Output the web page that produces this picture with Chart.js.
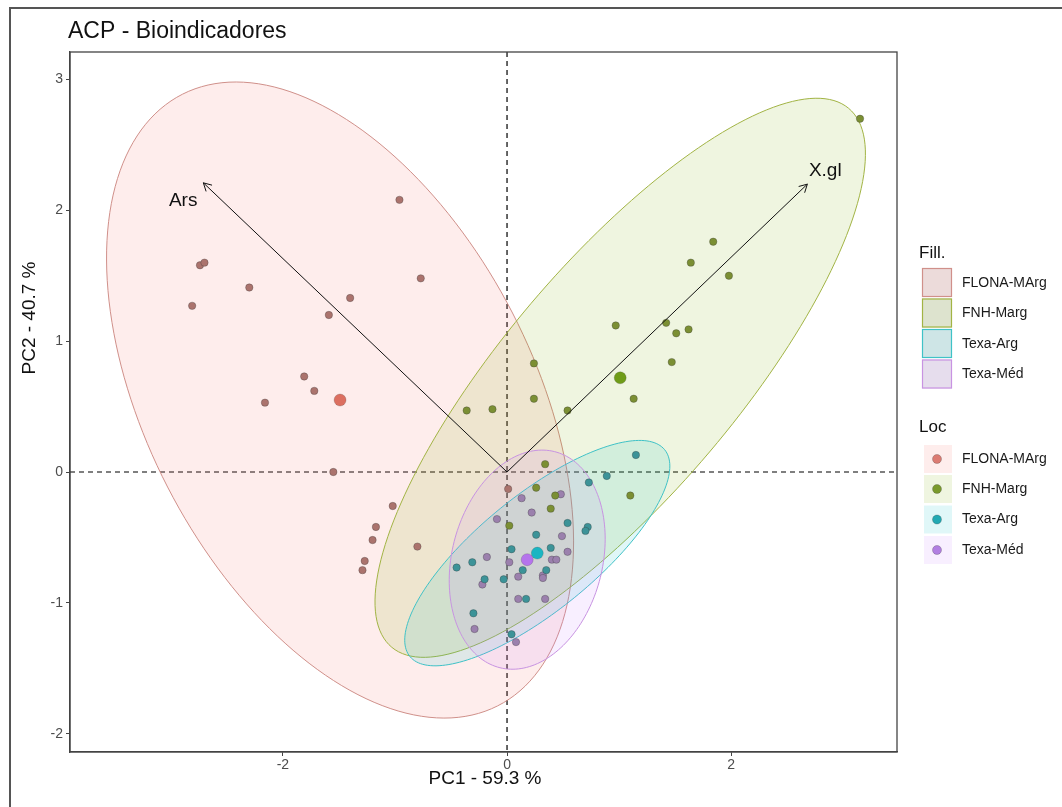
<!DOCTYPE html>
<html>
<head>
<meta charset="utf-8">
<script src="https://cdn.jsdelivr.net/npm/chart.js@4.4.1/dist/chart.umd.min.js"></script>
<style>
html,body{margin:0;padding:0;background:#fff;}
canvas{display:block;}
</style>
</head>
<body>
<canvas id="c" width="1062" height="807"></canvas>
<script>
// ---------------- data ----------------
const groups = ['FLONA-MArg', 'FNH-Marg', 'Texa-Arg', 'Texa-Méd'];

const flonaX = [-0.96, -2.74, -2.70, -2.30, -2.81, -0.77, -1.40, -1.59, -1.81, -1.72, -2.16, -1.55, -1.02, -1.17, -1.20, -1.27, -1.29, -0.80, 0.01];
const flonaY = [2.08, 1.58, 1.60, 1.41, 1.27, 1.48, 1.33, 1.20, 0.73, 0.62, 0.53, 0.00, -0.26, -0.42, -0.52, -0.68, -0.75, -0.57, -0.13];

const fnhX = [3.15, 1.84, 1.64, 1.98, 0.97, 1.42, 1.51, 1.62, 1.47, 1.13, 0.54, 0.24, 0.24, -0.36, -0.13, 0.34, 1.10, 0.26, 0.43, 0.39, 0.02];
const fnhY = [2.70, 1.76, 1.60, 1.50, 1.12, 1.14, 1.06, 1.09, 0.84, 0.56, 0.47, 0.83, 0.56, 0.47, 0.48, 0.06, -0.18, -0.12, -0.18, -0.28, -0.41];

const texaArgX = [1.15, 0.89, 0.73, 0.54, 0.72, 0.70, 0.26, 0.04, 0.39, -0.31, -0.45, 0.14, 0.35, -0.20, -0.03, 0.17, -0.30, 0.04];
const texaArgY = [0.13, -0.03, -0.08, -0.39, -0.42, -0.45, -0.48, -0.59, -0.58, -0.69, -0.73, -0.75, -0.75, -0.82, -0.82, -0.97, -1.08, -1.24];

const texaMedX = [0.13, 0.48, 0.22, -0.09, 0.49, 0.54, -0.18, 0.02, 0.40, 0.44, 0.10, 0.32, 0.32, -0.22, 0.10, 0.34, -0.29, 0.08];
const texaMedY = [-0.20, -0.17, -0.31, -0.36, -0.49, -0.61, -0.65, -0.69, -0.67, -0.67, -0.80, -0.79, -0.81, -0.86, -0.97, -0.97, -1.20, -1.30];

// group means (large points, also ellipse centres)
const meanX = [-1.49, 1.01, 0.27, 0.18];
const meanY = [0.55, 0.72, -0.62, -0.67];

// concentration ellipses: two conjugate semi-axis vectors per group (data units)
const ellUX = [1.405, 2.038, 1.136, 0.243];
const ellUY = [-2.338, 2.060, 0.791, 0.826];
const ellVX = [1.539, 0.797, 0.330, 0.652];
const ellVY = [0.665, -0.567, -0.341, -0.138];

// variable arrows
const varNames = ['Ars', 'X.gl'];
const varX = [-2.71, 2.68];
const varY = [2.21, 2.20];
const varLabelX = [-2.89, 2.84];
const varLabelY = [2.07, 2.30];

// axes
const xTicks = [-2, 0, 2];
const yTicks = [-2, -1, 0, 1, 2, 3];
const xRange = [-3.9, 3.48];
const yRange = [-2.14, 3.21];

const titleText = 'ACP - Bioindicadores';
const xTitle = 'PC1 - 59.3 %';
const yTitle = 'PC2 - 40.7 %';
const fillLegendTitle = 'Fill.';
const locLegendTitle = 'Loc';

// ---------------- styles ----------------
const FONT = "'Liberation Sans', Arial, sans-serif";
const ptFill = ['#ab736d', '#7b8f33', '#3c9398', '#9b80ad'];
const meanFill = ['#dc6f60', '#6f9c18', '#1bb5c2', '#b574ec'];
const ellFill = ['rgba(248,118,109,0.13)', 'rgba(124,174,0,0.12)', 'rgba(0,191,196,0.12)', 'rgba(199,124,255,0.12)'];
const ellLine = ['#d0908a', '#a2b444', '#3fc2c7', '#c893e2'];
const legPoint = ['#dc7b72', '#7a9a2c', '#22a9b3', '#b27fe2'];

const groupX = [flonaX, fnhX, texaArgX, texaMedX];
const groupY = [flonaY, fnhY, texaArgY, texaMedY];
const toPts = (xs, ys) => xs.map((x, i) => ({x: x, y: ys[i]}));

const datasets = [];
varNames.forEach((n, i) => {
  datasets.push({
    label: 'arrow ' + n,
    data: [{x: 0, y: 0}, {x: varX[i], y: varY[i]}],
    showLine: true, borderColor: '#111', borderWidth: 1, pointRadius: 0, order: 0
  });
});
groups.forEach((g, i) => {
  datasets.push({
    label: g + ' mean', data: [{x: meanX[i], y: meanY[i]}],
    pointRadius: 6, backgroundColor: meanFill[i], borderColor: 'rgba(60,60,60,0.35)', borderWidth: 0.6, order: 1
  });
  datasets.push({
    label: g, data: toPts(groupX[i], groupY[i]),
    pointRadius: 3.7, backgroundColor: ptFill[i], borderColor: 'rgba(50,50,50,0.45)', borderWidth: 0.7, order: 2
  });
});

// ---------------- custom drawing plugin ----------------
const decor = {
  id: 'decor',
  beforeDraw(chart) {
    const ctx = chart.ctx;
    ctx.save();
    ctx.fillStyle = '#fff';
    ctx.fillRect(0, 0, chart.width, chart.height);
    ctx.strokeStyle = '#555';
    ctx.lineWidth = 2;
    ctx.beginPath();
    ctx.moveTo(10, chart.height);
    ctx.lineTo(10, 8);
    ctx.lineTo(chart.width, 8);
    ctx.stroke();
    ctx.restore();
  },
  beforeDatasetsDraw(chart) {
    const ctx = chart.ctx, ca = chart.chartArea;
    const xs = chart.scales.x, ys = chart.scales.y;
    ctx.save();
    ctx.beginPath();
    ctx.rect(ca.left, ca.top, ca.right - ca.left, ca.bottom - ca.top);
    ctx.clip();
    ctx.strokeStyle = '#000';
    ctx.lineWidth = 1.2;
    ctx.setLineDash([5, 4]);
    const x0 = xs.getPixelForValue(0), y0 = ys.getPixelForValue(0);
    ctx.beginPath();
    ctx.moveTo(ca.left, y0); ctx.lineTo(ca.right, y0);
    ctx.moveTo(x0, ca.top); ctx.lineTo(x0, ca.bottom);
    ctx.stroke();
    ctx.setLineDash([]);
    groups.forEach((g, i) => {
      ctx.beginPath();
      const N = 180;
      for (let k = 0; k <= N; k++) {
        const t = 2 * Math.PI * k / N;
        const dx = meanX[i] + Math.cos(t) * ellUX[i] + Math.sin(t) * ellVX[i];
        const dy = meanY[i] + Math.cos(t) * ellUY[i] + Math.sin(t) * ellVY[i];
        const px = xs.getPixelForValue(dx), py = ys.getPixelForValue(dy);
        if (k === 0) ctx.moveTo(px, py); else ctx.lineTo(px, py);
      }
      ctx.closePath();
      ctx.fillStyle = ellFill[i];
      ctx.fill();
      ctx.strokeStyle = ellLine[i];
      ctx.lineWidth = 1;
      ctx.stroke();
    });
    ctx.restore();
  },
  afterDatasetsDraw(chart) {
    const ctx = chart.ctx, ca = chart.chartArea;
    const xs = chart.scales.x, ys = chart.scales.y;
    ctx.save();
    const ox = xs.getPixelForValue(0), oy = ys.getPixelForValue(0);
    ctx.strokeStyle = '#111';
    ctx.lineWidth = 1;
    varNames.forEach((n, i) => {
      const px = xs.getPixelForValue(varX[i]), py = ys.getPixelForValue(varY[i]);
      const a = Math.atan2(py - oy, px - ox);
      const L = 9, s = 0.5;
      ctx.beginPath();
      ctx.moveTo(px - L * Math.cos(a - s), py - L * Math.sin(a - s));
      ctx.lineTo(px, py);
      ctx.lineTo(px - L * Math.cos(a + s), py - L * Math.sin(a + s));
      ctx.stroke();
      ctx.fillStyle = '#111';
      ctx.font = '19px ' + FONT;
      ctx.textAlign = 'center';
      ctx.textBaseline = 'middle';
      ctx.fillText(n, xs.getPixelForValue(varLabelX[i]), ys.getPixelForValue(varLabelY[i]));
    });
    ctx.strokeStyle = '#444';
    ctx.lineWidth = 1.3;
    ctx.strokeRect(ca.left, ca.top, ca.right - ca.left, ca.bottom - ca.top);
    ctx.restore();
  },
  afterDraw(chart) {
    const ctx = chart.ctx, ca = chart.chartArea;
    ctx.save();
    ctx.fillStyle = '#111';
    ctx.textBaseline = 'middle';
    ctx.font = '23px ' + FONT;
    ctx.textAlign = 'left';
    ctx.fillText(titleText, 68, 32);
    ctx.font = '19px ' + FONT;
    ctx.textAlign = 'center';
    ctx.fillText(xTitle, 485, 779);
    ctx.save();
    ctx.translate(30, 318);
    ctx.rotate(-Math.PI / 2);
    ctx.fillText(yTitle, 0, 0);
    ctx.restore();
    // legend: Fill.
    ctx.textAlign = 'left';
    ctx.font = '17px ' + FONT;
    ctx.fillText(fillLegendTitle, 919, 253);
    const fillTops = [268, 298.5, 329, 359.5];
    groups.forEach((g, i) => {
      const y = fillTops[i];
      ctx.fillStyle = '#ebebeb';
      ctx.fillRect(922, y, 30, 29);
      ctx.fillStyle = ellFill[i];
      ctx.fillRect(922, y, 30, 29);
      ctx.strokeStyle = ellLine[i];
      ctx.lineWidth = 1.2;
      ctx.strokeRect(922.5, y + 0.5, 29, 28);
      ctx.fillStyle = '#1a1a1a';
      ctx.font = '14px ' + FONT;
      ctx.fillText(g, 962, y + 15);
    });
    // legend: Loc
    ctx.font = '17px ' + FONT;
    ctx.fillStyle = '#111';
    ctx.fillText(locLegendTitle, 919, 427);
    const locCenters = [459, 489, 519.5, 550];
    groups.forEach((g, i) => {
      const y = locCenters[i];
      ctx.fillStyle = ellFill[i];
      ctx.fillRect(924, y - 14, 28, 28);
      ctx.beginPath();
      ctx.arc(937, y, 4.5, 0, 2 * Math.PI);
      ctx.fillStyle = legPoint[i];
      ctx.fill();
      ctx.strokeStyle = 'rgba(60,60,60,0.4)';
      ctx.lineWidth = 0.7;
      ctx.stroke();
      ctx.fillStyle = '#1a1a1a';
      ctx.font = '14px ' + FONT;
      ctx.fillText(g, 962, y);
    });
    ctx.restore();
  }
};

new Chart(document.getElementById('c'), {
  type: 'scatter',
  data: {datasets: datasets},
  options: {
    responsive: false,
    animation: false,
    devicePixelRatio: 1,
    events: [],
    layout: {padding: {left: 0, right: 165, top: 52, bottom: 0}},
    plugins: {legend: {display: false}, tooltip: {enabled: false}, title: {display: false}},
    scales: {
      x: {
        type: 'linear', min: xRange[0], max: xRange[1],
        afterBuildTicks: s => { s.ticks = xTicks.map(v => ({value: v})); },
        afterFit: s => { s.height = 55; },
        grid: {drawOnChartArea: false, drawTicks: true, tickLength: 4, color: '#444'},
        border: {display: true, color: '#444', width: 1.3},
        ticks: {color: '#4d4d4d', font: {size: 14, family: FONT}, padding: 1, maxRotation: 0}
      },
      y: {
        type: 'linear', min: yRange[0], max: yRange[1],
        afterBuildTicks: s => { s.ticks = yTicks.map(v => ({value: v})); },
        afterFit: s => { s.width = 70; },
        grid: {drawOnChartArea: false, drawTicks: true, tickLength: 4, color: '#444'},
        border: {display: true, color: '#444', width: 1.3},
        ticks: {color: '#4d4d4d', font: {size: 14, family: FONT}, padding: 3}
      }
    }
  },
  plugins: [decor]
});
</script>
</body>
</html>
